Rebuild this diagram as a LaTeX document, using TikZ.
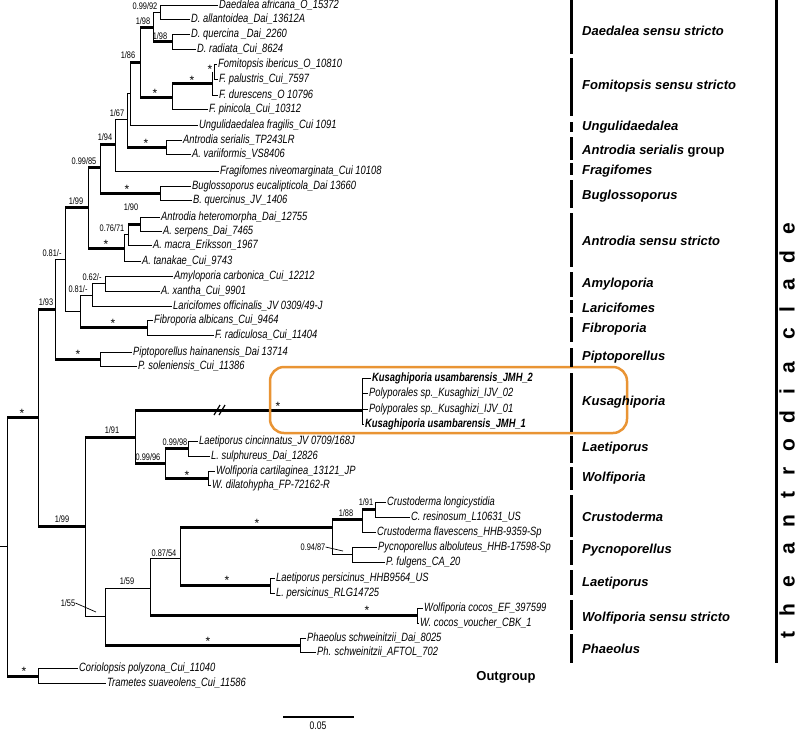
\documentclass[tikz,border=0pt]{standalone}
\usepackage{fontspec}
\setmainfont{Liberation Sans}
\newfontfamily\narrowf[FakeStretch=0.78]{Liberation Sans}
\newfontfamily\cladef[LetterSpace=75]{Liberation Sans}
\definecolor{kor}{RGB}{233,148,52}
\begin{document}
\begin{tikzpicture}[x=1pt,y=-1pt,
  tlab/.style={anchor=west, inner sep=1pt, font=\narrowf\itshape\fontsize{12}{13}\selectfont},
  tlabb/.style={tlab, font=\narrowf\bfseries\itshape\fontsize{12}{13}\selectfont},
  slab/.style={inner sep=0pt, font=\narrowf\fontsize{9.5}{10}\selectfont},
  astr/.style={inner sep=0pt, font=\fontsize{12}{12}\selectfont},
  brn/.style={line width=0.9pt},
  brk/.style={line width=3pt},
  glab/.style={anchor=west, inner sep=0pt, font=\bfseries\itshape\fontsize{13}{14}\selectfont},
  gbar/.style={line width=3pt}]
\useasboundingbox (0,0) rectangle (800,732);

% ---------- tips ----------
\node[tlab] (t1) at (218,5) {Daedalea africana\_O\_15372};
\node[tlab] (t2) at (190,19) {D. allantoidea\_Dai\_13612A};
\node[tlab] (t3) at (190,34) {D. quercina \_Dai\_2260};
\node[tlab] (t4) at (196,49) {D. radiata\_Cui\_8624};
\node[tlab] (t5) at (217,64) {Fomitopsis ibericus\_O\_10810};
\node[tlab] (t6) at (218,79) {F. palustris\_Cui\_7597};
\node[tlab] (t7) at (218,95) {F. durescens\_O 10796};
\node[tlab] (t8) at (208,109) {F. pinicola\_Cui\_10312};
\node[tlab] (t9) at (198,125) {Ungulidaedalea fragilis\_Cui 1091};
\node[tlab] (t10) at (182,140) {Antrodia serialis\_TP243LR};
\node[tlab] (t11) at (191,154) {A. variiformis\_VS8406};
\node[tlab] (t12) at (219,171) {Fragifomes niveomarginata\_Cui 10108};
\node[tlab] (t13) at (191,186) {Buglossoporus eucalipticola\_Dai 13660};
\node[tlab] (t14) at (192,200) {B. quercinus\_JV\_1406};
\node[tlab] (t15) at (160,217) {Antrodia heteromorpha\_Dai\_12755};
\node[tlab] (t16) at (162,231) {A. serpens\_Dai\_7465};
\node[tlab] (t17) at (152,245) {A. macra\_Eriksson\_1967};
\node[tlab] (t18) at (141,261) {A. tanakae\_Cui\_9743};
\node[tlab] (t19) at (173,276) {Amyloporia carbonica\_Cui\_12212};
\node[tlab] (t20) at (160,291) {A. xantha\_Cui\_9901};
\node[tlab] (t21) at (172,306) {Laricifomes officinalis\_JV 0309/49-J};
\node[tlab] (t22) at (153,320) {Fibroporia albicans\_Cui\_9464};
\node[tlab] (t23) at (214,335) {F. radiculosa\_Cui\_11404};
\node[tlab] (t24) at (132,352) {Piptoporellus hainanensis\_Dai 13714};
\node[tlab] (t25) at (137,366) {P. soleniensis\_Cui\_11386};
\node[tlabb] (t26) at (371,378) {Kusaghiporia usambarensis\_JMH\_2};
\node[tlab] (t27) at (368,393) {Polyporales sp.\_Kusaghizi\_IJV\_02};
\node[tlab] (t28) at (368,409) {Polyporales sp.\_Kusaghizi\_IJV\_01};
\node[tlabb] (t29) at (364,424) {Kusaghiporia usambarensis\_JMH\_1};
\node[tlab] (t30) at (198,441) {Laetiporus cincinnatus\_JV 0709/168J};
\node[tlab] (t31) at (210,456) {L. sulphureus\_Dai\_12826};
\node[tlab] (t32) at (215,471) {Wolfiporia cartilaginea\_13121\_JP};
\node[tlab] (t33) at (211,485) {W. dilatohypha\_FP-72162-R};
\node[tlab] (t34) at (386,502) {Crustoderma longicystidia};
\node[tlab] (t35) at (410,517) {C. resinosum\_L10631\_US};
\node[tlab] (t36) at (376,532) {Crustoderma flavescens\_HHB-9359-Sp};
\node[tlab] (t37) at (377,547) {Pycnoporellus alboluteus\_HHB-17598-Sp};
\node[tlab] (t38) at (385,562) {P. fulgens\_CA\_20};
\node[tlab] (t39) at (275,578) {Laetiporus persicinus\_HHB9564\_US};
\node[tlab] (t40) at (275,593) {L. persicinus\_RLG14725};
\node[tlab] (t41) at (423,608) {Wolfiporia cocos\_EF\_397599};
\node[tlab] (t42) at (419,623) {W. cocos\_voucher\_CBK\_1};
\node[tlab] (t43) at (306,638) {Phaeolus schweinitzii\_Dai\_8025};
\node[tlab] (t44) at (316,652) {Ph. schweinitzii\_AFTOL\_702};
\node[tlab] (t45) at (78,668) {Coriolopsis polyzona\_Cui\_11040};
\node[tlab] (t46) at (106,683) {Trametes suaveolens\_Cui\_11586};

% ---------- internal nodes ----------
\coordinate (rs) at (0,546);
\coordinate (root) at (7,546);
\coordinate (outg) at (38,676);
\coordinate (ing) at (38,417);
\coordinate (n193) at (55,309);
\coordinate (n081a) at (65,259);
\coordinate (n199a) at (88,207.5);
\coordinate (n09985) at (100,167);
\coordinate (n194) at (115,144);
\coordinate (n167) at (127,119);
\coordinate (nU) at (130,93);
\coordinate (n186) at (140,62);
\coordinate (n198a) at (153,27);
\coordinate (n09992) at (160,12);
\coordinate (n198b) at (172,41.5);
\coordinate (fom) at (172,97);
\coordinate (fstar) at (212,83.5);
\coordinate (fsmall) at (214,71.5);
\coordinate (aser) at (166,147);
\coordinate (bug) at (160,193);
\coordinate (antss) at (124,248);
\coordinate (n076) at (128,234.5);
\coordinate (n190) at (140,224);
\coordinate (n080) at (80,311);
\coordinate (n081b) at (92,295);
\coordinate (n062) at (105,283.5);
\coordinate (fib) at (147,327.5);
\coordinate (pip) at (100,359);
\coordinate (n199b) at (85,526);
\coordinate (n191) at (135,437);
\coordinate (kus) at (362,410);
\coordinate (n09996) at (165,463.5);
\coordinate (n09998) at (188,448.5);
\coordinate (wolf) at (208,478);
\coordinate (n155) at (105,616.5);
\coordinate (n159) at (150,588);
\coordinate (n087) at (180,558);
\coordinate (crpy) at (332,527);
\coordinate (n188) at (362,519);
\coordinate (n191c) at (375,509.5);
\coordinate (pyc) at (352,554.5);
\coordinate (lper) at (270,585.5);
\coordinate (wcoc) at (417,615.5);
\coordinate (phae) at (300,645);

% ---------- vertical spans ----------
\foreach \n/\a/\b in {root/ing/outg, outg/t45/t46, ing/n193/n199b, n193/n081a/pip,
  n081a/n199a/n080, n199a/n09985/antss, n09985/n194/bug, n194/n167/t12, n167/nU/aser,
  nU/n186/t9, n186/n198a/fom, n198a/n09992/n198b, n09992/t1/t2, n198b/t3/t4,
  fom/fstar/t8, fstar/fsmall/t7, fsmall/t5/t6, aser/t10/t11, bug/t13/t14,
  antss/n076/t18, n076/n190/t17, n190/t15/t16, n080/n081b/fib, n081b/n062/t21,
  n062/t19/t20, fib/t22/t23, pip/t24/t25, n199b/n191/n155, n191/kus/n09996,
  kus/t26/t29, n09996/n09998/wolf, n09998/t30/t31, wolf/t32/t33, n155/n159/phae,
  n159/n087/wcoc, n087/crpy/lper, crpy/n188/pyc, n188/n191c/t36, n191c/t34/t35,
  pyc/t37/t38, lper/t39/t40, wcoc/t41/t42, phae/t43/t44}
  \draw[brn] (\n |- \a) -- (\n |- \b);

% ---------- thin horizontal branches ----------
\draw[brn] (rs) -- (root);
\foreach \p/\c in {n193/n081a, n081a/n080, n194/n167, n167/nU, n198a/n09992,
  antss/n076, n080/n081b, n081b/n062, n199b/n155, n155/n159, n159/n087, crpy/pyc}
  \draw[brn] (\p |- \c) -- (\c);
\foreach \p/\c in {outg/t45, outg/t46, n194/t12, nU/t9, n09992/t1, n09992/t2,
  n198b/t3, n198b/t4, fom/t8, fstar/t7, fsmall/t5, fsmall/t6, aser/t10, aser/t11,
  bug/t13, bug/t14, antss/t18, n076/t17, n190/t15, n190/t16, n081b/t21, n062/t19,
  n062/t20, fib/t22, fib/t23, pip/t24, pip/t25, kus/t26, kus/t27, kus/t28, kus/t29,
  n09998/t30, n09998/t31, wolf/t32, wolf/t33, n188/t36, n191c/t34, n191c/t35,
  pyc/t37, pyc/t38, lper/t39, lper/t40, wcoc/t41, wcoc/t42, phae/t43, phae/t44}
  \draw[brn] (\p |- \c.west) -- (\c.west);

% ---------- thick horizontal branches ----------
\foreach \p/\c in {root/ing, root/outg, ing/n193, ing/n199b, n193/pip, n081a/n199a,
  n199a/n09985, n199a/antss, n09985/n194, n09985/bug, n167/aser, nU/n186,
  n186/n198a, n186/fom, n198a/n198b, fom/fstar, n076/n190, n080/fib,
  n199b/n191, n191/kus, n191/n09996, n09996/n09998, n09996/wolf, n155/phae,
  n159/wcoc, n087/crpy, n087/lper, crpy/n188, n188/n191c}
  \draw[brk] (\p |- \c) -- (\c);

% long-branch break marks
\draw[line width=1.2pt] (214,415) -- (220,405) (219,415) -- (225,405);

% ---------- support values ----------
\node[slab] at (46,302) {1/93};
\node[slab] at (52,253) {0.81/-};
\node[slab] at (76,201) {1/99};
\node[slab] at (84,161) {0.99/85};
\node[slab] at (105,137) {1/94};
\node[slab] at (117,113) {1/67};
\node[slab] at (128,55) {1/86};
\node[slab] at (143,21) {1/98};
\node[slab] at (145,6) {0.99/92};
\node[slab] at (160,36) {1/98};
\node[slab] at (112,228) {0.76/71};
\node[slab] at (131,207) {1/90};
\node[slab] at (78,289) {0.81/-};
\node[slab] at (92,277) {0.62/-};
\node[slab] at (62,519) {1/99};
\node[slab] at (112,430) {1/91};
\node[slab] at (148,457) {0.99/96};
\node[slab] at (175,442) {0.99/98};
\node[slab] (l155) at (68,603) {1/55};
\node[slab] at (127,581) {1/59};
\node[slab] at (164,553) {0.87/54};
\node[slab] at (346,513) {1/88};
\node[slab] at (366,502) {1/91};
\node[slab] (l094) at (313,547) {0.94/87};
\draw[line width=0.7pt] (l155.east) -- (96,612);
\draw[line width=0.7pt] (l094.east) -- (343,551);

% ---------- asterisks ----------
\foreach \x/\y in {22/413, 24/671, 78/354, 113/323, 127/189, 146/143, 155/93,
  192/80, 210/69, 106/244, 278/406, 187/475, 257/523, 227/580, 367/610, 208/641}
  \node[astr] at (\x,\y) {*};

% ---------- Kusaghiporia box ----------
\draw[kor, line width=2.5pt, rounded corners=14pt] (270,367) rectangle (627,433);

% ---------- group bars and labels ----------
\foreach \a/\b in {0/54, 58/116, 122/132, 137/160, 163/175, 180/208, 213/267,
  272/297, 300/313, 317/342, 348/367, 373/432, 436/463, 467/490, 495/537,
  540/565, 570/595, 600/630, 634/663}
  \draw[gbar] (571,\a) -- (571,\b);
\node[glab] (g1) at (582,31) {Daedalea sensu stricto};
\node[glab] (g2) at (582,86) {Fomitopsis sensu stricto};
\node[glab] (g3) at (582,127) {Ungulidaedalea};
\node[glab] (g4) at (582,151) {Antrodia serialis \textup{group}};
\node[glab] (g5) at (582,171) {Fragifomes};
\node[glab] (g6) at (582,196) {Buglossoporus};
\node[glab] (g7) at (582,241) {Antrodia sensu stricto};
\node[glab] (g8) at (582,284) {Amyloporia};
\node[glab] (g9) at (582,308) {Laricifomes};
\node[glab] (g10) at (582,329) {Fibroporia};
\node[glab] (g11) at (582,357) {Piptoporellus};
\node[glab] (g12) at (582,402) {Kusaghiporia};
\node[glab] (g13) at (582,448) {Laetiporus};
\node[glab] (g14) at (582,478) {Wolfiporia};
\node[glab] (g15) at (582,517) {Crustoderma};
\node[glab] (g16) at (582,550) {Pycnoporellus};
\node[glab] (g17) at (582,583) {Laetiporus};
\node[glab] (g18) at (582,618) {Wolfiporia sensu stricto};
\node[glab] (g19) at (582,649) {Phaeolus};
\node[inner sep=0pt, font=\bfseries\fontsize{13}{14}\selectfont] (og) at (506,677) {Outgroup};

% clade bar
\draw[gbar] (776,0) -- (776,663);
\node[rotate=90, inner sep=0pt, font=\cladef\bfseries\fontsize{21}{23}\selectfont] (clade) at (787,431) {the antrodia clade};

% scale bar
\draw[line width=2pt] (283,717) -- (354,717);
\node[inner sep=0pt, font=\narrowf\fontsize{11}{12}\selectfont] (sc) at (318,726) {0.05};
\end{tikzpicture}
\end{document}
